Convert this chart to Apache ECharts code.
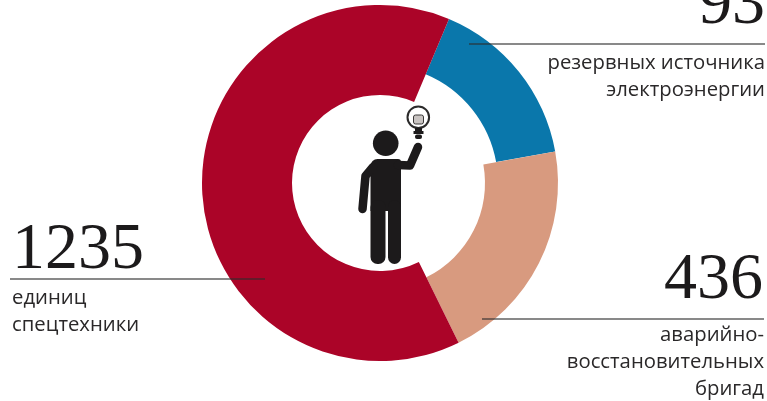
<!DOCTYPE html>
<html><head><meta charset="utf-8">
<style>html,body{margin:0;padding:0;background:#fff}#c{width:767px;height:401px}</style>
<script src="https://cdn.jsdelivr.net/npm/echarts@6/dist/echarts.min.js"></script></head>
<body><div id="c"></div>
<script>
// Slice names, printed values and the slice sweep (degrees) as drawn in the picture
const names = ['резервных источника электроэнергии','аварийно-восстановительных бригад','единиц спецтехники'];
const printed = ['93','436','1235'];
const sweepDegrees = [57,74,229];
const colors = ['#0a77ab','#d89a7f','#ab0428'];
const innerRadii = [118,105,88];
const serif = '"Liberation Serif",serif', sans = '"Open Sans","Noto Sans",sans-serif';

function txt(x,baseline,t,size,align,font,color){
  return {type:'text',z:20,style:{x,y:baseline-size*0.8,text:t,fontSize:size,fontFamily:font,fill:color,align,verticalAlign:'top'}};
}
function rule(x1,x2,y){
  return {type:'line',z:15,shape:{x1,y1:y,x2,y2:y},style:{stroke:'rgba(45,45,45,0.75)',lineWidth:1.4}};
}
const ink='#1c1a1b';
const person=[
  {type:'circle',z:18,shape:{cx:385.7,cy:143.3,r:12.8},style:{fill:ink}},
  {type:'rect',z:18,shape:{x:370.5,y:159,width:30.5,height:52,r:[7,3,0,0]},style:{fill:ink}},
  {type:'rect',z:18,shape:{x:370.5,y:200,width:15,height:64,r:7},style:{fill:ink}},
  {type:'rect',z:18,shape:{x:388,y:200,width:13,height:64,r:6.5},style:{fill:ink}},
  {type:'polyline',z:18,shape:{points:[[373,167],[365.5,176],[362.5,209]]},style:{stroke:ink,lineWidth:8.5,lineCap:'round',lineJoin:'round',fill:null}},
  {type:'polyline',z:18,shape:{points:[[398,165],[410,165.5],[418,147]]},style:{stroke:ink,lineWidth:8.5,lineCap:'round',lineJoin:'round',fill:null}},
  {type:'circle',z:18,shape:{cx:418.3,cy:117.3,r:10.8},style:{fill:'#fff',stroke:'#2b2a2a',lineWidth:2}},
  {type:'rect',z:18,shape:{x:413.5,y:115,width:10,height:9,r:2},style:{fill:'#c9c4c2',stroke:'#3a3838',lineWidth:1}},
  {type:'rect',z:18,shape:{x:415,y:128,width:7,height:3},style:{fill:ink}},
  {type:'rect',z:18,shape:{x:413.5,y:131,width:10,height:3},style:{fill:ink}},
  {type:'rect',z:18,shape:{x:415,y:134.5,width:7,height:4.5,r:2},style:{fill:ink}}
];

const chart = echarts.init(document.getElementById('c'),null,{renderer:'canvas'});
chart.setOption({
  animation:false,
  backgroundColor:'#fff',
  series:innerRadii.map((r,k)=>({
    type:'pie',center:[380,183],radius:[r,178],startAngle:67.2,clockwise:true,silent:true,
    label:{show:false},labelLine:{show:false},
    data:names.map((n,i)=>({name:n,value:sweepDegrees[i],itemStyle:{color:colors[i],opacity:i===k?1:0}}))
  })),
  graphic:[
    rule(469,765,44),rule(482,764,319),rule(10,265,279),
    txt(765,25,printed[0],66,'right',serif,ink),
    txt(763,300,printed[1],66,'right',serif,ink),
    txt(12,270,printed[2],66,'left',serif,ink),
    txt(765,69,'резервных источника',20.3,'right',sans,'#2a2829'),
    txt(765,96,'электроэнергии',20.3,'right',sans,'#2a2829'),
    txt(764,341,'аварийно-',20.3,'right',sans,'#2a2829'),
    txt(764,368,'восстановительных',20.3,'right',sans,'#2a2829'),
    txt(764,395,'бригад',20.3,'right',sans,'#2a2829'),
    txt(12,304,'единиц',20.3,'left',sans,'#2a2829'),
    txt(12,331,'спецтехники',20.3,'left',sans,'#2a2829')
  ].concat(person)
});
</script></body></html>
